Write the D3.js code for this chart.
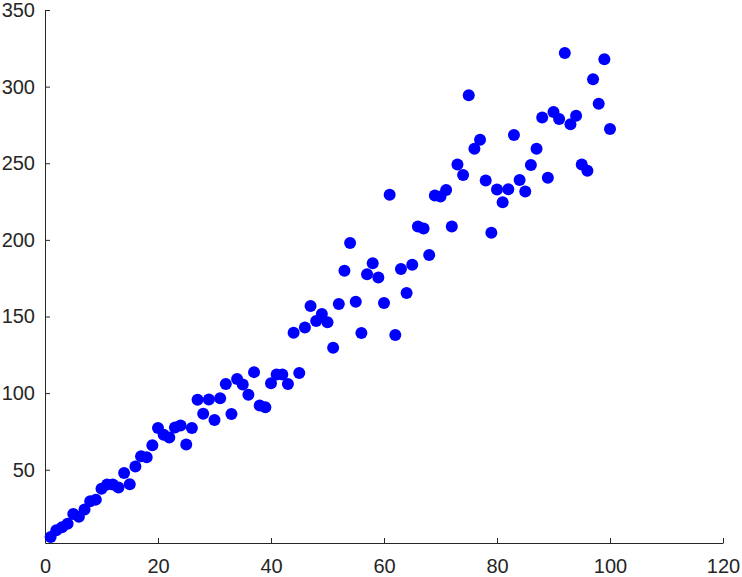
<!DOCTYPE html>
<html>
<head>
<meta charset="utf-8">
<script src="https://cdn.jsdelivr.net/npm/d3@7"></script>
<style>
  html, body { margin: 0; padding: 0; background: #ffffff; }
  svg { display: block; }
</style>
</head>
<body>
<script>
const xValues = d3.range(1, 101);
const yValues = [
  6.1, 10.5, 12.4, 14.7, 21.2, 19.3, 24.0, 29.5, 30.5, 37.6,
  40.3, 40.3, 38.4, 47.9, 40.5, 52.1, 58.8, 58.2, 66.0, 77.3,
  72.9, 71.0, 77.6, 78.8, 66.5, 77.3, 95.6, 86.5, 95.9, 82.4,
  96.7, 105.9, 86.3, 109.2, 105.7, 98.9, 113.7, 92.0, 90.8, 106.5,
  112.2, 112.2, 105.9, 139.4, 113.1, 142.8, 156.9, 147.1, 151.6, 146.2,
  129.6, 158.2, 179.9, 198.0, 159.7, 139.2, 177.6, 184.8, 175.4, 158.8,
  229.4, 137.9, 181.0, 165.4, 183.7, 208.7, 207.4, 190.2, 229.0, 228.3,
  232.5, 208.7, 249.2, 242.3, 294.3, 259.5, 265.4, 238.8, 204.6, 232.9,
  224.6, 233.1, 268.4, 239.0, 231.6, 248.8, 259.5, 279.9, 240.5, 283.5,
  278.9, 322.0, 275.4, 281.0, 249.2, 245.1, 304.8, 288.9, 317.8, 272.4
];
const xTicks = [0, 20, 40, 60, 80, 100, 120];
const yTicks = [50, 100, 150, 200, 250, 300, 350];
const xDomain = [0, 120];
const yDomain = [2.2, 350];

const W = 742, H = 577;
const margin = { left: 45, right: 19, top: 10, bottom: 34 };

const svg = d3.select("body").append("svg").attr("width", W).attr("height", H);

const x = d3.scaleLinear().domain(xDomain).range([margin.left, W - margin.right]);
const y = d3.scaleLinear().domain(yDomain).range([H - margin.bottom, margin.top]);

const axisColor = "#262626";
const font = "'Liberation Sans', Arial, Helvetica, sans-serif";

const gx = svg.append("g")
  .attr("transform", `translate(0,${H - margin.bottom})`)
  .call(d3.axisBottom(x).tickValues(xTicks).tickSizeInner(-5).tickSizeOuter(0).tickPadding(16));
const gy = svg.append("g")
  .attr("transform", `translate(${margin.left},0)`)
  .call(d3.axisLeft(y).tickValues(yTicks).tickSizeInner(-5).tickSizeOuter(0).tickPadding(10));

[gx, gy].forEach(g => {
  g.attr("font-size", 20).attr("font-family", font);
  g.select(".domain").attr("stroke", axisColor).attr("stroke-width", 1);
  g.selectAll(".tick line").attr("stroke", axisColor);
  g.selectAll(".tick text").attr("fill", axisColor)
    .style("font-family", font).style("font-size", "20px");
});

svg.append("g")
  .selectAll("circle")
  .data(xValues.map((d, i) => [d, yValues[i]]))
  .join("circle")
  .attr("cx", d => x(d[0]))
  .attr("cy", d => y(d[1]))
  .attr("r", 6)
  .attr("fill", "#0000ff");
</script>
</body>
</html>
